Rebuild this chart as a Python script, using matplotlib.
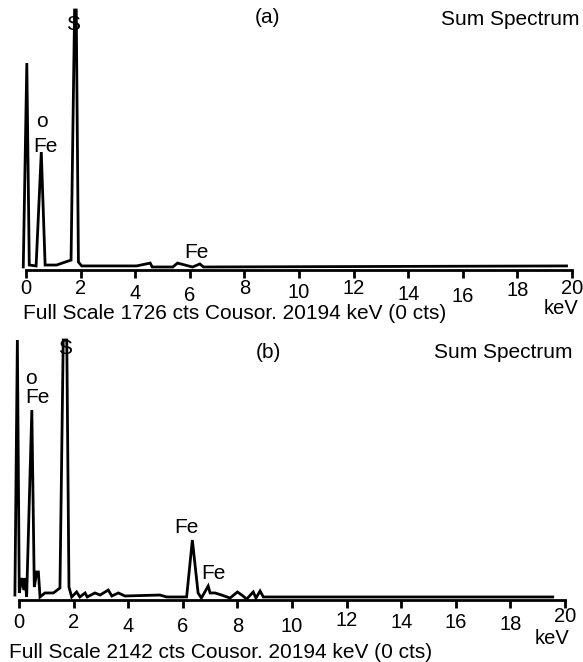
import matplotlib
matplotlib.use("Agg")
import matplotlib.pyplot as plt

plt.rcParams['font.family'] = ['Liberation Sans', 'DejaVu Sans']

# spectrum (a): energy (keV) and counts, full scale 1726 cts
kev_a = [-0.1, 0.03, 0.12, 0.37, 0.56, 0.70, 1.12, 1.65, 1.78, 1.84, 1.92, 2.04,
         4.05, 4.55, 4.62, 5.38, 5.55, 6.10, 6.37, 6.50, 19.8]
cts_a = [20, 1374, 33, 27, 783, 33, 33, 66, 1726, 1726, 53, 27,
         27, 46, 20, 20, 46, 20, 40, 20, 27]

# spectrum (b): full scale 2142 cts
kev_b = [-0.15, -0.06, 0.01, 0.10, 0.18, 0.22, 0.28, 0.47, 0.56, 0.65, 0.71, 0.77,
         0.95, 1.26, 1.50, 1.62, 1.75, 1.83, 1.93, 2.11, 2.23, 2.42, 2.50, 2.78,
         2.97, 3.27, 3.40, 3.64, 3.88, 5.16, 5.41, 6.14, 6.35, 6.56, 6.68, 6.93,
         7.00, 7.18, 7.42, 7.73, 8.00, 8.16, 8.34, 8.58, 8.68, 8.83, 8.95, 19.55]
cts_b = [41, 2142, 58, 181, 82, 181, 25, 1565, 107, 231, 231, 25,
         58, 58, 99, 2142, 2142, 107, 25, 66, 25, 58, 25, 58,
         41, 82, 33, 58, 33, 41, 25, 25, 494, 58, 16, 115,
         58, 58, 41, 16, 66, 41, 8, 66, 16, 74, 25, 25]

full_scale = [1726, 2142]
xticks = [0, 2, 4, 6, 8, 10, 12, 14, 16, 18, 20]

# peak labels: (text, keV, cts)
labels_a = [("S", 1.72, 1633), ("o", 0.59, 989), ("Fe", 0.70, 823), ("Fe", 6.26, 119)]
labels_b = [("S", 1.68, 2068), ("o", 0.44, 1821), ("Fe", 0.66, 1672),
            ("Fe", 6.15, 601), ("Fe", 7.11, 222)]

W, H = 583, 662
fig = plt.figure(figsize=(W / 100, H / 100), dpi=100)

# layout in pixels: x of 0 keV, y of axis line, tick label drops, keV offset, footer position
panels = [
    dict(x0=26, axis=270, drops=[18, 18, 23, 25, 18, 22, 18, 24, 26, 20, 18],
         kev=(-11, -38), foot=(23, 314), tag="(a)", tag_xy=(8.86, 1673), sum_y=1660),
    dict(x0=19, axis=600, drops=[22, 22, 27, 27, 27, 26, 21, 22, 22, 24, 16],
         kev=(-13, -39), foot=(9, 653), tag="(b)", tag_xy=(9.12, 2043), sum_y=2035),
]
data = [(kev_a, cts_a, labels_a), (kev_b, cts_b, labels_b)]

for i, (p, (kev, cts, labs)) in enumerate(zip(panels, data)):
    ax = fig.add_axes([p['x0'] / W, 1 - p['axis'] / H, 546 / W, 260 / H])
    ax.plot(kev, cts, color='black', lw=2.0, clip_on=False, zorder=3,
            solid_joinstyle='miter')
    ax.set_xlim(0, 20)
    ax.set_ylim(0, full_scale[i])
    for s in ['top', 'right', 'left']:
        ax.spines[s].set_visible(False)
    ax.spines['bottom'].set_linewidth(2.0)
    ax.set_yticks([])
    ax.set_xticks(xticks)
    ax.tick_params(axis='x', direction='out', length=6, width=2,
                   labelbottom=False, color='black')
    ax.patch.set_alpha(0)

    # tick labels drawn by hand: the original has them at uneven heights
    for t, d in zip(xticks, p['drops']):
        ax.annotate(str(t), xy=(t, 0), xycoords=('data', 'axes fraction'),
                    xytext=(0, -d), textcoords='offset pixels',
                    ha='center', va='center', fontsize=14.5)
    ax.annotate("keV", xy=(20, 0), xycoords=('data', 'axes fraction'),
                xytext=p['kev'], textcoords='offset pixels',
                ha='center', va='center', fontsize=14.5)

    for txt, x, y in labs:
        ax.text(x, y, txt, ha='center', va='center', fontsize=15, zorder=2)
    ax.text(p['tag_xy'][0], p['tag_xy'][1], p['tag'], ha='center', va='center',
            fontsize=15)
    ax.text(20.29, p['sum_y'], "Sum Spectrum", ha='right', va='center', fontsize=15)

    fig.text(p['foot'][0] / W, 1 - p['foot'][1] / H,
             "Full Scale %d cts Cousor. 20194 keV (0 cts)" % full_scale[i],
             ha='left', va='center', fontsize=15)

fig.savefig("out.png", dpi=100)
